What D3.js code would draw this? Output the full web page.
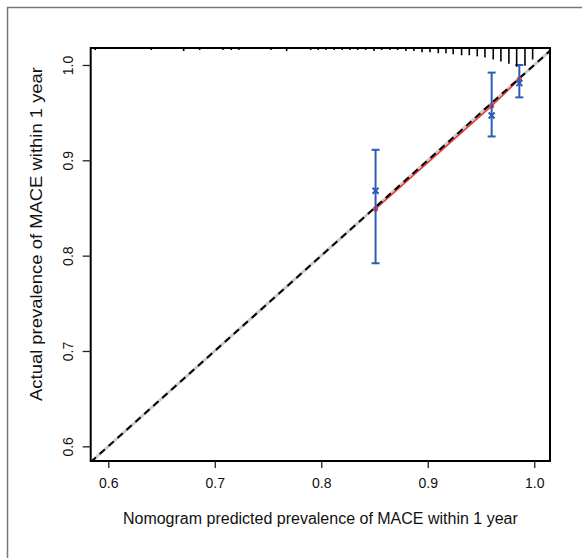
<!DOCTYPE html>
<html>
<head>
<meta charset="utf-8">
<script src="https://cdn.jsdelivr.net/npm/d3@7/dist/d3.min.js"></script>
<style>
  body { margin: 0; background: #fff; }
  svg { font-family: "Liberation Sans", Arial, sans-serif; }
</style>
</head>
<body>
<div id="graph"></div>
<script>
// calibration groups (predicted vs observed)
var predicted = [0.851, 0.960, 0.986];
var observed = [0.849, 0.957, 0.985];
var corrected = [0.868, 0.947, 0.981];
var lower = [0.792, 0.925, 0.966];
var upper = [0.911, 0.992, 1.0];

// spike histogram of predicted risk along the top
var rugX = [0.5878, 0.6404, 0.6708, 0.6858, 0.7077, 0.7155, 0.7227, 0.7528, 0.7675,
  0.7900, 0.7972, 0.8044, 0.8122, 0.8197, 0.8270, 0.8342, 0.8417, 0.8495, 0.8567,
  0.8645, 0.8717, 0.8795, 0.8870, 0.8946, 0.9021, 0.9099, 0.9171, 0.9239, 0.9318,
  0.9390, 0.9465, 0.9537, 0.9615, 0.9687, 0.9762, 0.9835, 0.9913, 0.9985];
var rugN = [1, 1, 2, 1, 1, 1, 1, 1, 2,
  1, 1, 1, 1, 1, 1, 1, 1, 2, 1,
  1, 1, 2, 2, 3, 3, 4, 4, 5, 6,
  6, 7, 8, 10, 12, 14, 17, 16, 10];

var xTicks = [0.6, 0.7, 0.8, 0.9, 1.0];
var yTicks = [0.6, 0.7, 0.8, 0.9, 1.0];

var w = 582, h = 558;
// plot box edges (named to avoid window.top)
var pLeft = 90.7, pRight = 550, pTop = 48, pBottom = 461;

var svg = d3.select('#graph').append('svg')
  .attr('width', w)
  .attr('height', h);

// outer frame (only left/top visible in the crop)
svg.append('path')
  .attr('d', 'M7.5,' + h + 'V7.5H' + w)
  .attr('fill', 'none')
  .attr('stroke', '#777')
  .attr('stroke-width', 1.5);

var x = d3.scaleLinear().domain([0.5835, 1.0148]).range([pLeft, pRight]);
var y = d3.scaleLinear().domain([0.5846, 1.0178]).range([pBottom, pTop]);
var spike = d3.scaleLinear().domain([0, 1]).range([0, 1.05]);

svg.append('clipPath').attr('id', 'clip')
  .append('rect')
  .attr('x', pLeft).attr('y', pTop)
  .attr('width', pRight - pLeft).attr('height', pBottom - pTop);

var plot = svg.append('g').attr('clip-path', 'url(#clip)');

// ideal line, gray under black dashes
var dom = x.domain();
plot.append('line')
  .attr('x1', x(dom[0])).attr('y1', y(dom[0]))
  .attr('x2', x(dom[1])).attr('y2', y(dom[1]))
  .attr('stroke', '#cccccc').attr('stroke-width', 3);

// apparent calibration (red)
var pts = predicted.map(function(d, i) { return [d, observed[i]]; });
plot.append('path')
  .attr('d', d3.line().x(function(d) { return x(d[0]); }).y(function(d) { return y(d[1]); })(pts))
  .attr('fill', 'none')
  .attr('stroke', '#f03c3c')
  .attr('stroke-width', 1.6);

plot.append('line')
  .attr('x1', x(dom[0])).attr('y1', y(dom[0]))
  .attr('x2', x(dom[1])).attr('y2', y(dom[1]))
  .attr('stroke', '#000').attr('stroke-width', 2)
  .attr('stroke-dasharray', '7,5');

plot.selectAll('.rdot').data(pts).enter().append('circle')
  .attr('cx', function(d) { return x(d[0]); })
  .attr('cy', function(d) { return y(d[1]); })
  .attr('r', 2.6)
  .attr('fill', '#f03c3c');

// error bars
var blue = '#2c5cb4';
var bars = svg.append('g').attr('stroke', blue).attr('stroke-width', 2).attr('fill', 'none');
predicted.forEach(function(p, i) {
  var cx = x(p);
  bars.append('line').attr('x1', cx).attr('x2', cx).attr('y1', y(lower[i])).attr('y2', y(upper[i]));
  bars.append('line').attr('x1', cx - 4).attr('x2', cx + 4).attr('y1', y(lower[i])).attr('y2', y(lower[i]));
  bars.append('line').attr('x1', cx - 4).attr('x2', cx + 4).attr('y1', y(upper[i])).attr('y2', y(upper[i]));
  var cy = y(corrected[i]);
  bars.append('path')
    .attr('d', 'M' + (cx - 3) + ',' + (cy - 3) + 'L' + (cx + 3) + ',' + (cy + 3) +
      'M' + (cx - 3) + ',' + (cy + 3) + 'L' + (cx + 3) + ',' + (cy - 3))
    .attr('stroke-width', 2);
});

// rug spikes
svg.append('g').selectAll('line').data(rugX).enter().append('line')
  .attr('x1', function(d) { return x(d); })
  .attr('x2', function(d) { return x(d); })
  .attr('y1', pTop)
  .attr('y2', function(d, i) { return pTop + spike(rugN[i]) + 1; })
  .attr('stroke', '#000')
  .attr('stroke-width', 1.6);

// box
svg.append('rect')
  .attr('x', pLeft).attr('y', pTop)
  .attr('width', pRight - pLeft).attr('height', pBottom - pTop)
  .attr('fill', 'none').attr('stroke', '#000').attr('stroke-width', 2);

// axes
var xAxis = d3.axisBottom(x).tickValues(xTicks).tickFormat(d3.format('.1f')).tickSize(7).tickPadding(10);
svg.append('g')
  .attr('transform', 'translate(0,' + pBottom + ')')
  .call(xAxis)
  .call(function(g) {
    g.select('.domain').remove();
    g.selectAll('.tick line').attr('stroke', '#222').attr('stroke-width', 1.3);
    g.selectAll('.tick text').attr('font-size', 14).attr('fill', '#111')
      .attr('font-family', '"Liberation Sans", Arial, sans-serif');
  });

var yAxis = d3.axisLeft(y).tickValues(yTicks).tickFormat(d3.format('.1f')).tickSize(8);
svg.append('g')
  .attr('transform', 'translate(' + pLeft + ',0)')
  .call(yAxis)
  .call(function(g) {
    g.select('.domain').remove();
    g.selectAll('.tick line').attr('stroke', '#222').attr('stroke-width', 1.3);
    g.selectAll('.tick text')
      .attr('font-size', 14).attr('fill', '#111')
      .attr('font-family', '"Liberation Sans", Arial, sans-serif')
      .attr('x', null)
      .attr('text-anchor', 'middle')
      .attr('transform', 'translate(-23,0) rotate(-90)')
      .attr('dy', '0.35em');
  });

svg.append('text')
  .attr('x', (pLeft + pRight) / 2)
  .attr('y', 524)
  .attr('text-anchor', 'middle')
  .attr('font-size', 16)
  .attr('fill', '#111')
  .text('Nomogram predicted prevalence of MACE within 1 year');

svg.append('text')
  .attr('transform', 'translate(42,' + 234 + ') rotate(-90)')
  .attr('text-anchor', 'middle')
  .attr('font-size', 17)
  .attr('textLength', 334)
  .attr('lengthAdjust', 'spacingAndGlyphs')
  .attr('fill', '#111')
  .text('Actual prevalence of MACE within 1 year');
</script>
</body>
</html>
